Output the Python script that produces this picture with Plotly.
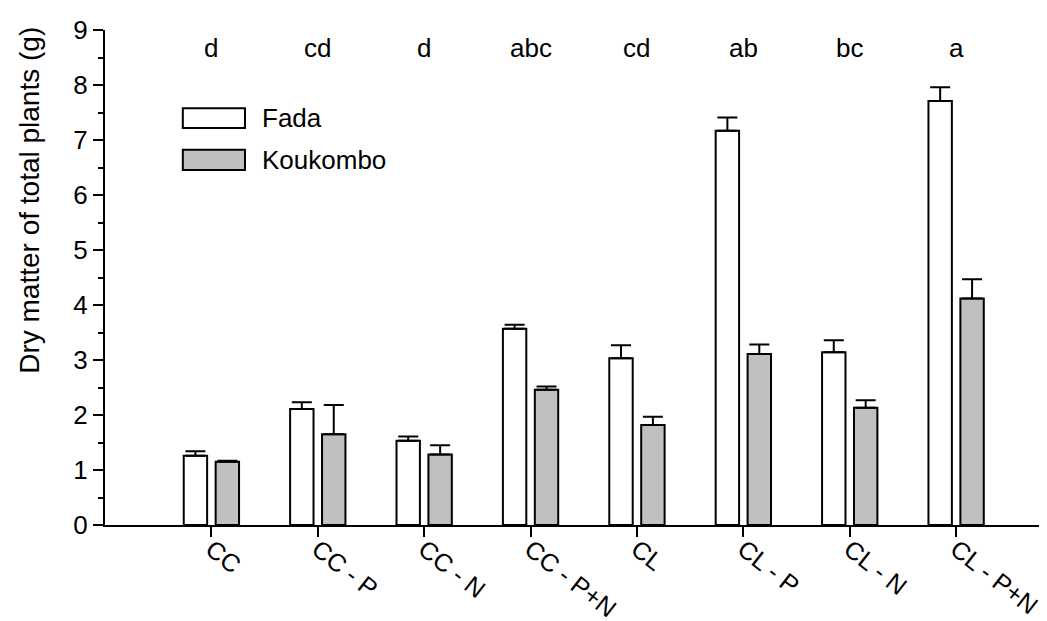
import plotly.graph_objects as go

categories = ["CC", "CC - P", "CC - N", "CC - P+N", "CL", "CL - P", "CL - N", "CL - P+N"]
fada = [1.26, 2.11, 1.53, 3.57, 3.03, 7.17, 3.14, 7.71]
fada_err = [0.08, 0.12, 0.08, 0.07, 0.24, 0.24, 0.22, 0.25]
koukombo = [1.15, 1.65, 1.28, 2.46, 1.82, 3.11, 2.13, 4.12]
koukombo_err = [0.02, 0.53, 0.17, 0.06, 0.15, 0.17, 0.14, 0.35]
letters = ["d", "cd", "d", "abc", "cd", "ab", "bc", "a"]
series_names = ["Fada", "Koukombo"]
series_colors = ["#ffffff", "#c0c0c0"]
y_title = "Dry matter of total plants (g)"

FONT = "Liberation Sans, Arial, sans-serif"
FS = 26

fig = go.Figure()
for name, vals, errs, col, off in [
    (series_names[0], fada, fada_err, series_colors[0], -0.26),
    (series_names[1], koukombo, koukombo_err, series_colors[1], 0.04),
]:
    fig.add_trace(go.Bar(
        x=categories, y=vals, name=name,
        width=0.22, offset=off,
        marker=dict(color=col, line=dict(color="black", width=2)),
        error_y=dict(type="data", array=errs, symmetric=False, arrayminus=[0]*len(errs),
                     color="black", thickness=2, width=10),
        showlegend=False,
    ))

annotations = []
for c, l in zip(categories, letters):
    annotations.append(dict(x=c, y=8.67, xref="x", yref="y", text=l, showarrow=False,
                            font=dict(family=FONT, size=FS, color="black"),
                            xanchor="center", yanchor="middle"))

# y-axis title (placed above centre as in the reference)
annotations.append(dict(x=-0.079, y=0.655, xref="paper", yref="paper", text=y_title,
                        textangle=-90, showarrow=False, xanchor="center", yanchor="middle",
                        font=dict(family=FONT, size=28, color="black")))

# manual legend
shapes = []
legend_rows = [(0.842, 0.802, 0.822), (0.758, 0.717, 0.737)]
for (y1, y0, yc), name, col in zip(legend_rows, series_names, series_colors):
    shapes.append(dict(type="rect", xref="paper", yref="paper", x0=0.082, x1=0.1475,
                       y0=y0, y1=y1, fillcolor=col, line=dict(color="black", width=2)))
    annotations.append(dict(x=0.163, y=yc, xref="paper", yref="paper", text=name,
                            showarrow=False, xanchor="left", yanchor="middle",
                            font=dict(family=FONT, size=FS, color="black")))

fig.update_layout(
    width=1047, height=621,
    margin=dict(l=97, r=1, t=22, b=104),
    plot_bgcolor="white", paper_bgcolor="white",
    font=dict(family=FONT, size=FS, color="black"),
    barmode="overlay",
    annotations=annotations, shapes=shapes,
    xaxis=dict(type="category", range=[-1.0, 7.92], showline=True, linecolor="black", linewidth=2,
               ticks="outside", ticklen=10, tickwidth=2, tickcolor="black", tickangle=38,
               ticklabelstandoff=-12,
               showgrid=False, zeroline=False, tickfont=dict(family=FONT, size=25),
               automargin=False),
    yaxis=dict(range=[0, 9], showline=True, linecolor="black", linewidth=2,
               ticks="outside", ticklen=10, tickwidth=2, tickcolor="black",
               tickvals=list(range(10)), showgrid=False, zeroline=False,
               minor=dict(ticks="outside", ticklen=5, tickwidth=2, tickcolor="black", dtick=0.5),
               tickfont=dict(family=FONT, size=FS), automargin=False),
)

fig.write_html("out.html")
